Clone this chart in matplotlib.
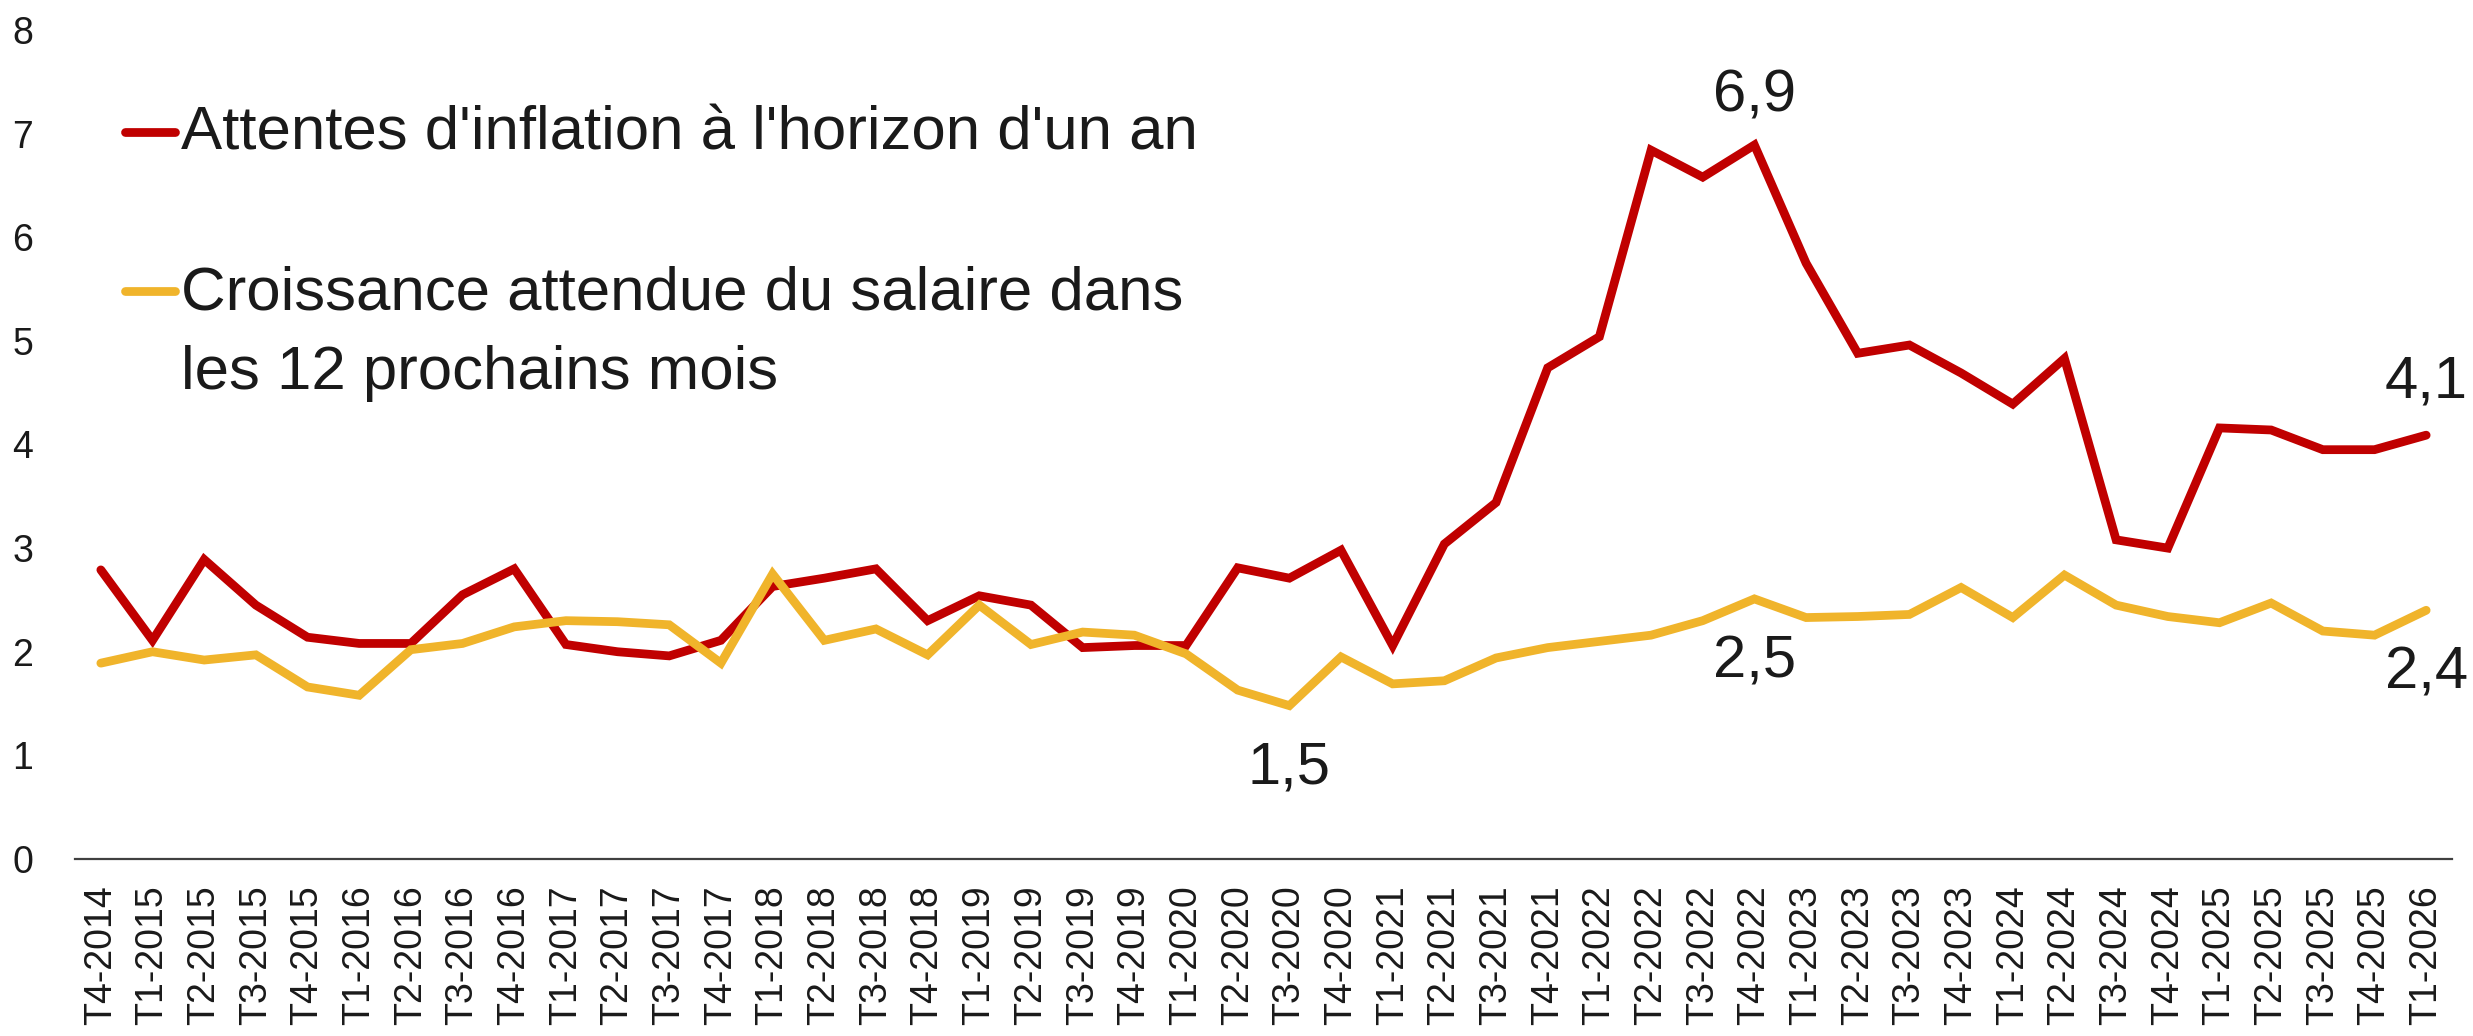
import matplotlib
matplotlib.use("Agg")
import matplotlib.pyplot as plt
from matplotlib.lines import Line2D

plt.rcParams['font.family'] = ['Liberation Sans', 'DejaVu Sans']

# ---- data ----
quarters = (["T4-2014"] +
            [f"T{q}-{y}" for y in range(2015, 2026) for q in (1, 2, 3, 4)] +
            ["T1-2026"])

inflation = [2.79, 2.11, 2.89, 2.45, 2.14, 2.08, 2.08, 2.55, 2.80, 2.07,
             2.00, 1.96, 2.11, 2.63, 2.71, 2.80, 2.30, 2.54, 2.45, 2.04,
             2.06, 2.06, 2.81, 2.71, 2.98, 2.06, 3.04, 3.44, 4.74, 5.04,
             6.84, 6.58, 6.89, 5.75, 4.88, 4.96, 4.69, 4.39, 4.83, 3.08,
             3.00, 4.16, 4.14, 3.95, 3.95, 4.09]

salaire = [1.89, 2.00, 1.92, 1.97, 1.66, 1.58, 2.02, 2.08, 2.24, 2.30,
           2.29, 2.26, 1.89, 2.75, 2.11, 2.22, 1.97, 2.45, 2.07, 2.19,
           2.16, 1.98, 1.63, 1.48, 1.95, 1.69, 1.72, 1.94, 2.04, 2.10,
           2.16, 2.30, 2.51, 2.33, 2.34, 2.36, 2.62, 2.33, 2.74, 2.45,
           2.34, 2.28, 2.47, 2.20, 2.16, 2.40]

label_infl = "Attentes d'inflation à l'horizon d'un an"
label_sal_1 = "Croissance attendue du salaire dans"
label_sal_2 = "les 12 prochains mois"

# annotations: (index, text, y position of baseline in data units)
annotations = [(32, "6,9", 7.21), (45, "4,1", 4.45), (23, "1,5", 0.73),
               (32, "2,5", 1.75), (45, "2,4", 1.65)]

RED = "#C00000"
YEL = "#F0B42B"
TXT = "#1a1a1a"

W, H = 2473, 1036
fig = plt.figure(figsize=(W / 100, H / 100), dpi=100)
ax = fig.add_axes([75 / W, 177 / H, (2452 - 75) / W, (1006 - 177) / H])

x = list(range(len(quarters)))
ax.plot(x, inflation, color=RED, lw=6.3, solid_joinstyle='miter', solid_capstyle='round')
ax.plot(x, salaire, color=YEL, lw=6.3, solid_joinstyle='miter', solid_capstyle='round')

ax.set_xlim(-0.5, len(quarters) - 0.5)
ax.set_ylim(0, 8)
ax.set_yticks(range(0, 9))
ax.set_xticks(x)
ax.set_xticklabels(quarters, rotation=90, fontsize=27, color=TXT)
ax.tick_params(axis='x', length=0, pad=19)
ax.tick_params(axis='y', length=0, pad=30, labelsize=27, labelcolor=TXT)

for s in ('left', 'right', 'top'):
    ax.spines[s].set_visible(False)
ax.spines['bottom'].set_color('#404040')
ax.spines['bottom'].set_linewidth(1.6)

for i, t, yy in annotations:
    ax.text(i, yy, t, ha='center', va='baseline', fontsize=43, color=TXT)

# legend (manual)
def fy(py):
    return 1 - py / H

for py, col in ((132, RED), (291, YEL)):
    fig.add_artist(Line2D([125 / W, 175 / W], [fy(py), fy(py)], color=col,
                          lw=6.3, solid_capstyle='round'))
fig.text(181 / W, fy(150), label_infl, fontsize=44.5, color=TXT, va='baseline', ha='left')
fig.text(181 / W, fy(310), label_sal_1, fontsize=44.5, color=TXT, va='baseline', ha='left')
fig.text(181 / W, fy(389), label_sal_2, fontsize=44.5, color=TXT, va='baseline', ha='left')

fig.savefig("out.png", dpi=100, facecolor='white')
